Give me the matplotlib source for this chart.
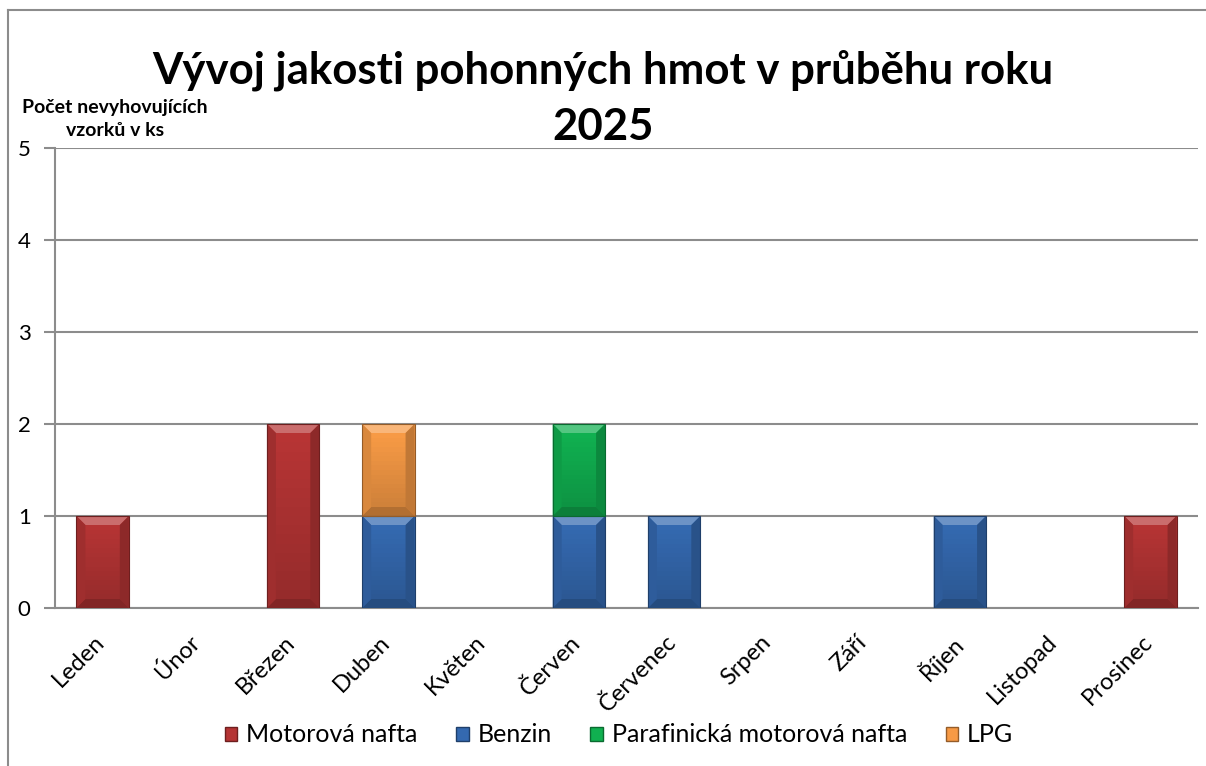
import numpy as np
import matplotlib
matplotlib.use("Agg")
import matplotlib.pyplot as plt
from matplotlib.patches import Polygon
from matplotlib.lines import Line2D
from matplotlib.colors import to_rgb
from matplotlib.transforms import ScaledTranslation

# ---------- Data ---------- #
months = ["Leden", "Únor", "Březen", "Duben", "Květen", "Červen",
          "Červenec", "Srpen", "Září", "Říjen", "Listopad", "Prosinec"]
nafta = [1, 0, 2, 0, 0, 0, 0, 0, 0, 0, 0, 1]
benzin = [0, 0, 0, 1, 0, 1, 1, 0, 0, 1, 0, 0]
parafin = [0, 0, 0, 0, 0, 1, 0, 0, 0, 0, 0, 0]
lpg = [0, 0, 0, 1, 0, 0, 0, 0, 0, 0, 0, 0]
series_names = ["Motorová nafta", "Benzin", "Parafinická motorová nafta", "LPG"]
colors = ["#B53434", "#3469B0", "#10B050", "#F79A45"]

plt.rcParams['font.family'] = ['Lato', 'DejaVu Sans']

fig = plt.figure(figsize=(12.06, 7.66), dpi=100)
ax = fig.add_axes([55 / 1206, 1 - 608 / 766, (1198 - 55) / 1206, 460 / 766])

x = np.arange(len(months))
width = 0.55
bottom = np.zeros(len(months))
bars = []
for vals, col in zip([nafta, benzin, parafin, lpg], colors):
    vals = np.array(vals, dtype=float)
    b = ax.bar(x, vals, width, bottom=bottom, color=col, zorder=3, linewidth=0)
    bars.append((b, vals, col))
    bottom += vals

ax.set_xlim(-0.5, len(months) - 0.5)
ax.set_ylim(0, 5)
ax.set_yticks(range(6))
ax.yaxis.grid(True, color="#8c8c8c", linewidth=1.5, zorder=0)
ax.set_axisbelow(True)
for s in ["top", "right"]:
    ax.spines[s].set_visible(False)
for s in ["left", "bottom"]:
    ax.spines[s].set_color("#8c8c8c")
    ax.spines[s].set_linewidth(1.5)
ax.tick_params(axis="y", length=8, width=1.5, color="#8c8c8c", labelsize=16, pad=9.5)
ax.tick_params(axis="x", length=0, labelsize=17, pad=16)
ax.set_xticks(x)
ax.set_xticklabels(months, rotation=45, ha="right", rotation_mode="anchor")
shift = ScaledTranslation(-9 / 100, -1 / 100, fig.dpi_scale_trans)
for lbl in ax.get_xticklabels():
    lbl.set_transform(lbl.get_transform() + shift)

# ---------- Bevel look on bars ---------- #
fig.canvas.draw()
inv = ax.transData.inverted()
bev = 9  # px
for b, vals, col in bars:
    rgb = np.array(to_rgb(col))
    for patch, v in zip(b.patches, vals):
        if v == 0:
            continue
        (x0, y0), (x1, y1) = ax.transData.transform(
            [(patch.get_x(), patch.get_y()),
             (patch.get_x() + patch.get_width(), patch.get_y() + patch.get_height())])

        def d(px, py):
            return inv.transform((px, py))
        # vertical gradient on the face
        n = 20
        for i in range(n):
            ya, yb = y0 + (y1 - y0) * i / n, y0 + (y1 - y0) * (i + 1) / n
            f = 0.82 + 0.2 * i / (n - 1)
            ax.add_patch(Polygon([d(x0, ya), d(x1, ya), d(x1, yb + 0.5), d(x0, yb + 0.5)],
                                 closed=True, color=tuple(np.clip(rgb * f, 0, 1)),
                                 zorder=3.5, lw=0))
        top = [d(x0, y1), d(x1, y1), d(x1 - bev, y1 - bev), d(x0 + bev, y1 - bev)]
        bot = [d(x0, y0), d(x1, y0), d(x1 - bev, y0 + bev), d(x0 + bev, y0 + bev)]
        left = [d(x0, y0), d(x0 + bev, y0 + bev), d(x0 + bev, y1 - bev), d(x0, y1)]
        right = [d(x1, y0), d(x1 - bev, y0 + bev), d(x1 - bev, y1 - bev), d(x1, y1)]
        ax.add_patch(Polygon(top, closed=True, color=tuple(rgb + (1 - rgb) * 0.28), zorder=4, lw=0))
        ax.add_patch(Polygon(bot, closed=True, color=tuple(rgb * 0.72), zorder=4, lw=0))
        ax.add_patch(Polygon(left, closed=True, color=tuple(rgb * 0.88), zorder=4, lw=0))
        ax.add_patch(Polygon(right, closed=True, color=tuple(rgb * 0.78), zorder=4, lw=0))
        ax.add_patch(Polygon([d(x0, y0), d(x1, y0), d(x1, y1), d(x0, y1)], closed=True,
                             fill=False, edgecolor=tuple(rgb * 0.6), lw=0.8, zorder=4.5))

# ---------- Texts ---------- #
fig.text(0.5, 1 - 70 / 766, "Vývoj jakosti pohonných hmot v průběhu roku",
         ha="center", va="center", fontsize=31.5, fontweight="bold")
fig.text(0.5, 1 - 127 / 766, "2025", ha="center", va="center",
         fontsize=31.5, fontweight="bold")
fig.text(115 / 1206, 1 - 119 / 766, "Počet nevyhovujících\nvzorků v ks",
         ha="center", va="center", fontsize=14, fontweight="bold", linespacing=1.5)

handles = [plt.Rectangle((0, 0), 1, 1, facecolor=c,
                         edgecolor=tuple(v * 0.6 for v in to_rgb(c))) for c in colors]
fig.legend(handles, series_names, loc="center", bbox_to_anchor=(619 / 1206, 1 - 735 / 766),
           ncol=4, frameon=False, fontsize=18, handlelength=0.5, handleheight=0.5,
           handletextpad=0.35, columnspacing=1.55)

# figure border (left and top only, as in the reference)
fig.add_artist(Line2D([8 / 1206, 8 / 1206], [0, 1 - 10 / 766], color="#8c8c8c", lw=1.5))
fig.add_artist(Line2D([8 / 1206, 1], [1 - 10 / 766, 1 - 10 / 766], color="#8c8c8c", lw=1.5))

fig.savefig("out.png", dpi=100)
